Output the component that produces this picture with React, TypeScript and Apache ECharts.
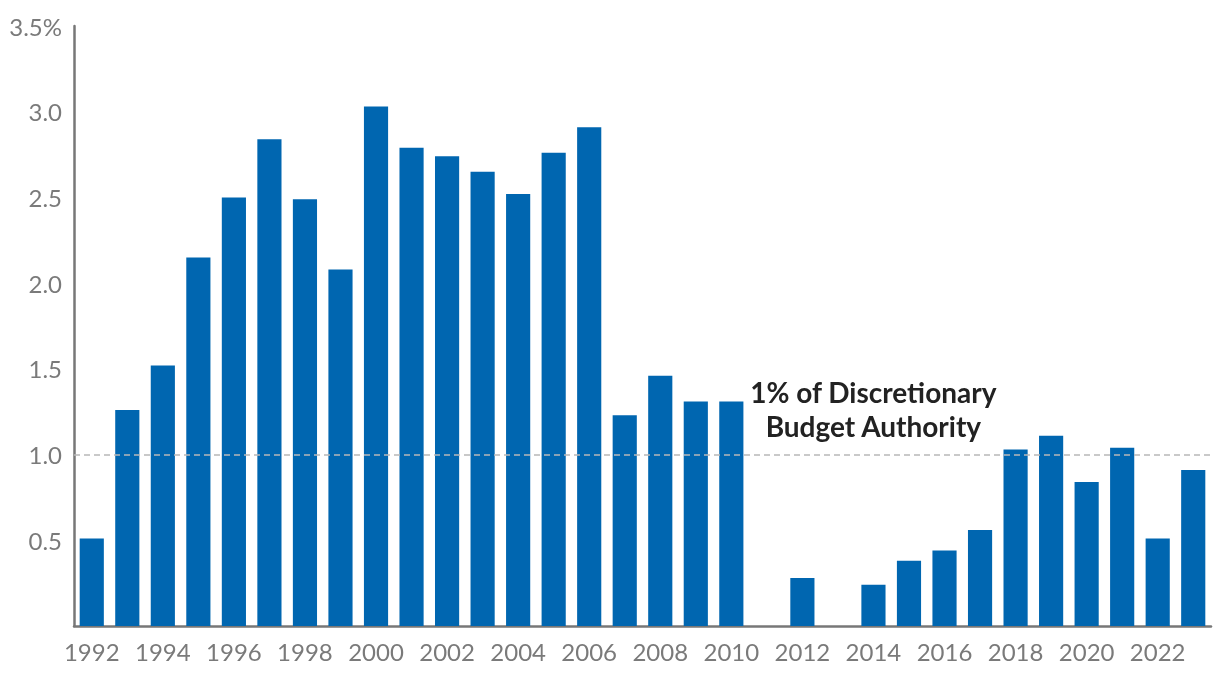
import React, { useEffect, useRef } from "react";
import * as echarts from "echarts";

const years: string[] = [
  "1992", "1993", "1994", "1995", "1996", "1997", "1998", "1999", "2000", "2001",
  "2002", "2003", "2004", "2005", "2006", "2007", "2008", "2009", "2010", "2011",
  "2012", "2013", "2014", "2015", "2016", "2017", "2018", "2019", "2020", "2021",
  "2022", "2023",
];
const shares: number[] = [
  0.51, 1.26, 1.52, 2.15, 2.5, 2.84, 2.49, 2.08, 3.03, 2.79,
  2.74, 2.65, 2.52, 2.76, 2.91, 1.23, 1.46, 1.31, 1.31, 0,
  0.28, 0, 0.24, 0.38, 0.44, 0.56, 1.03, 1.11, 0.84, 1.04,
  0.51, 0.91,
];
const thresholdValue = 1;
const annotationText = "1% of Discretionary\nBudget Authority";

export default function App() {
  const ref = useRef<HTMLDivElement>(null);
  useEffect(() => {
    if (!ref.current) return;
    const chart = echarts.init(ref.current, undefined, { renderer: "svg" });
    const font = "Lato, 'Open Sans', sans-serif";
    chart.setOption({
      animation: false,
      textStyle: { fontFamily: font },
      grid: { left: 74, right: 9, top: 26, bottom: 58, containLabel: false },
      xAxis: {
        type: "category",
        data: years,
        axisLine: { show: true, lineStyle: { color: "#777777", width: 2.5 } },
        axisTick: { show: false },
        axisLabel: {
          interval: 1,
          color: "#7a7a7a",
          fontSize: 24,
          fontFamily: font,
          margin: 13,
        },
      },
      yAxis: {
        type: "value",
        min: 0,
        max: 3.5,
        interval: 0.5,
        splitLine: { show: false },
        axisTick: { show: false },
        axisLine: { show: true, lineStyle: { color: "#777777", width: 2.5 } },
        axisLabel: {
          color: "#7a7a7a",
          fontSize: 24,
          fontFamily: font,
          margin: 12,
          formatter: (v: number) =>
            v === 0 ? "" : v === 3.5 ? "3.5%" : v.toFixed(1),
        },
      },
      series: [
        {
          type: "bar",
          data: shares,
          barCategoryGap: "32%",
          itemStyle: { color: "#0066b0" },
          z: 2,
          markLine: {
            silent: true,
            symbol: ["none", "none"],
            label: { show: false },
            lineStyle: { color: "#b8b8b8", type: [6, 4], width: 1.5 },
            data: [{ yAxis: thresholdValue }],
            z: 3,
          },
        },
      ],
      graphic: [
        {
          type: "text",
          left: 750,
          top: 375,
          style: {
            text: annotationText,
            fill: "#222222",
            fontSize: 28,
            fontWeight: "bold",
            fontFamily: font,
            textAlign: "center",
            lineHeight: 34,
          },
        },
      ],
    });
    return () => chart.dispose();
  }, []);
  return (
    <div
      ref={ref}
      style={{ position: "fixed", left: 0, top: 0, width: 1220, height: 684 }}
    />
  );
}
